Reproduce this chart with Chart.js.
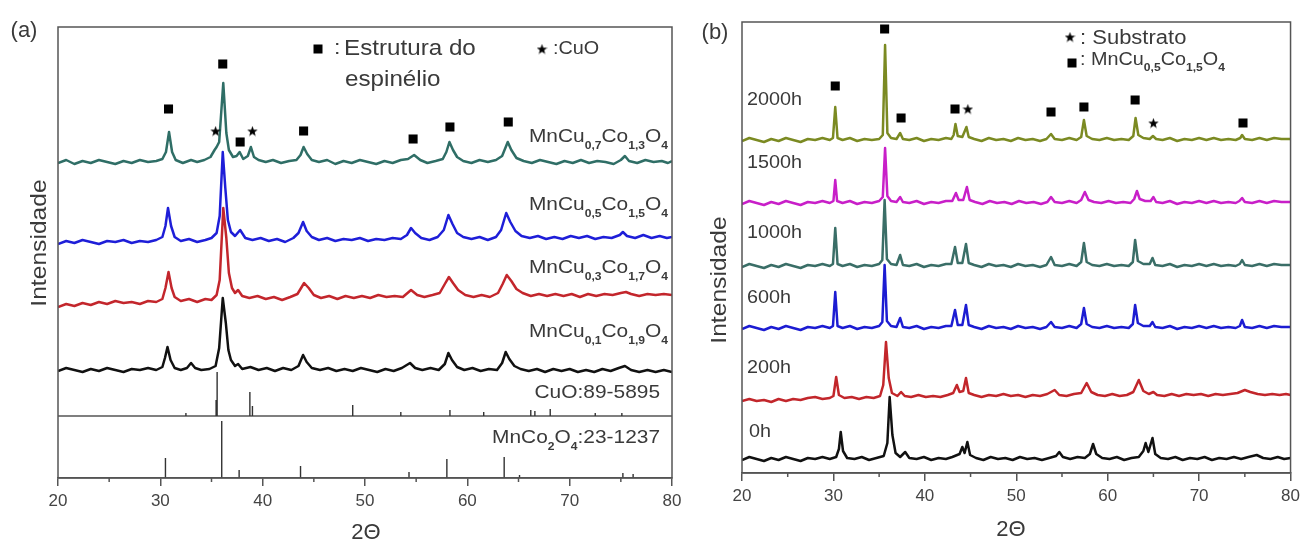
<!DOCTYPE html>
<html><head><meta charset="utf-8">
<script src="https://cdn.jsdelivr.net/npm/chart.js@4.4.1/dist/chart.umd.min.js"></script>
<style>
html,body{margin:0;padding:0;background:#fff;width:1305px;height:541px;overflow:hidden}
#ca{position:absolute;left:0;top:0}
#cb{position:absolute;left:690px;top:0}
</style></head><body>
<canvas id="ca" width="690" height="541"></canvas>
<canvas id="cb" width="615" height="541"></canvas>
<script>
// ---------- DATA ----------
const xTicks = [20,30,40,50,60,70,80];
const minorTicks = [25,35,45,55,65,75];

// Panel (a) traces: [2theta, intensity (offset, a.u.)]
const aMnCu07 = [[20,315],[20.8,318],[21.6,314],[22.4,317],[23.2,315],[24,318],[24.8,316],[25.6,314],[26.4,317],[27.2,315],[28,318],[28.8,316],[29.6,317],[30.2,319],[30.55,326],[30.85,346],[31.15,326],[31.5,318],[32.2,315],[33,318],[33.6,316],[34.3,318],[34.9,321],[35.3,328],[35.5,331],[35.75,336],[36.15,395],[36.45,345],[36.7,328],[37.1,321],[37.45,322],[37.75,326],[38.1,319],[38.55,322],[38.85,331],[39.15,321],[39.6,318],[40.3,316],[41,318],[41.8,315],[42.6,317],[43.3,318],[43.7,323],[44.0,331],[44.35,324],[44.8,318],[45.5,316],[46.3,318],[47.1,314],[47.9,317],[48.7,315],[49.5,318],[50.3,316],[51.1,314],[51.9,317],[52.7,315],[53.5,318],[54.2,319],[54.8,323],[55.4,318],[56.1,315],[56.9,317],[57.6,319],[57.95,326],[58.25,336],[58.6,328],[59.0,321],[59.6,317],[60.4,315],[61.2,318],[62,316],[62.8,318],[63.4,322],[63.95,336],[64.3,328],[64.8,320],[65.5,317],[66.3,315],[67.1,318],[67.9,316],[68.7,314],[69.5,317],[70.3,315],[71.1,318],[71.9,315],[72.7,317],[73.5,316],[74.3,314],[75.0,318],[75.4,322],[75.8,317],[76.6,315],[77.4,318],[78.2,316],[79,317],[79.6,315],[80,317]];
const aMnCu05 = [[20,234],[20.8,237],[21.6,235],[22.4,238],[23.2,236],[24,234],[24.8,237],[25.6,236],[26.4,238],[27.2,235],[28,237],[28.8,236],[29.6,238],[30.2,241],[30.5,252],[30.75,270],[31.05,252],[31.4,241],[32,237],[32.8,239],[33.6,236],[34.4,238],[35,240],[35.5,245],[35.8,262],[36.1,326],[36.35,290],[36.6,258],[36.9,246],[37.3,242],[37.8,248],[38.3,240],[39,238],[39.8,240],[40.6,237],[41.4,239],[42.2,236],[43,240],[43.5,245],[43.95,256],[44.3,247],[44.8,241],[45.5,238],[46.3,240],[47.1,237],[47.9,239],[48.7,238],[49.5,240],[50.3,237],[51.1,239],[51.9,238],[52.7,240],[53.5,239],[54.1,243],[54.5,250],[54.9,245],[55.5,240],[56.3,238],[57.1,241],[57.7,248],[58.15,263],[58.55,254],[59,245],[59.6,241],[60.4,239],[61.2,241],[62,238],[62.8,241],[63.3,248],[63.8,265],[64.2,256],[64.7,247],[65.3,242],[66.1,240],[66.9,242],[67.7,239],[68.5,241],[69.3,239],[70.1,242],[70.9,240],[71.7,242],[72.5,239],[73.3,241],[74.1,240],[74.9,243],[75.2,246],[75.6,242],[76.4,240],[77.2,243],[78,240],[78.8,242],[79.5,240],[80,241]];
const aMnCu03 = [[20,171],[20.8,174],[21.6,172],[22.4,175],[23.2,173],[24,176],[24.8,174],[25.6,177],[26.4,175],[27.2,176],[28,174],[28.8,177],[29.6,176],[30.2,179],[30.5,190],[30.8,206],[31.1,190],[31.4,181],[32,177],[32.8,179],[33.6,176],[34.4,179],[35,178],[35.5,183],[35.8,198],[36.15,270],[36.45,240],[36.7,205],[37,190],[37.3,185],[37.6,188],[38,182],[38.7,180],[39.5,182],[40.3,179],[41.1,181],[41.9,178],[42.7,181],[43.4,184],[44.05,195],[44.5,190],[45,183],[45.7,180],[46.5,182],[47.3,179],[48.1,182],[48.9,180],[49.7,182],[50.5,180],[51.3,183],[52.1,181],[52.9,182],[53.7,181],[54.5,188],[55.1,183],[55.8,181],[56.6,183],[57.3,185],[57.8,194],[58.2,201],[58.6,195],[59.1,188],[59.8,183],[60.6,181],[61.4,183],[62.2,181],[63,185],[63.45,194],[63.85,203],[64.3,197],[64.8,189],[65.4,185],[66.2,182],[67,184],[67.8,182],[68.6,184],[69.4,182],[70.2,184],[71,181],[71.8,184],[72.6,182],[73.4,184],[74.2,183],[75,185],[75.5,186],[76,184],[76.8,182],[77.6,184],[78.4,183],[79.2,184],[80,183]];
const aMnCu01 = [[20,107],[20.8,110],[21.6,108],[22.4,106],[23.2,109],[24,107],[24.8,110],[25.6,108],[26.4,106],[27.2,109],[28,108],[28.8,110],[29.6,108],[30.2,111],[30.45,120],[30.7,131],[31,118],[31.4,110],[32,108],[32.6,110],[33,115],[33.4,110],[34,108],[34.8,109],[35.4,112],[35.75,130],[36.1,180],[36.4,155],[36.65,128],[36.9,118],[37.3,112],[37.6,114],[38,109],[38.8,111],[39.6,108],[40.4,110],[41.2,107],[42,110],[42.8,108],[43.5,112],[43.95,123],[44.3,116],[44.8,110],[45.6,108],[46.4,110],[47.2,107],[48,109],[48.8,107],[49.6,110],[50.4,108],[51.2,106],[52,109],[52.8,107],[53.6,110],[54.4,115],[54.9,110],[55.6,108],[56.4,110],[57.2,108],[57.8,114],[58.15,125],[58.5,118],[59,111],[59.7,108],[60.5,110],[61.3,107],[62.1,109],[62.9,108],[63.4,115],[63.75,126],[64.1,119],[64.6,112],[65.2,109],[66,107],[66.8,109],[67.6,106],[68.4,109],[69.2,107],[70,109],[70.8,106],[71.6,108],[72.4,106],[73.2,109],[74,107],[74.8,110],[75.4,112],[76,108],[76.8,106],[77.6,108],[78.4,106],[79.2,108],[80,106]];

// Reference patterns: [2theta, relative height]
const cuoBase = 62;
const cuoSticks = [[32.5,3],[35.45,16],[35.55,44],[38.75,24],[39.0,10],[48.8,11],[53.5,4],[58.3,6],[61.6,4],[66.2,6],[66.6,5],[68.1,7],[72.5,3],[75.1,3]];
const mncoBase = 0;
const mncoSticks = [[30.5,20],[36.0,57],[37.7,8],[43.7,12],[54.3,6],[58.0,19],[63.6,21],[65.1,3],[75.2,5],[76.2,4]];
const aSeparator = [[20,62],[80,62]];

const aSquares = [[30.8,369],[36.1,414],[37.8,336],[44.0,347],[54.7,339],[58.3,351],[64.0,356]];
const aStars = [[35.4,347],[39.0,347]];

// Panel (b) traces
const b2000 = [[20,332],[20.8,335],[21.6,333],[22.4,331],[23.2,334],[24,332],[24.8,335],[25.6,333],[26.4,331],[27.2,334],[28,333],[28.8,335],[29.6,333],[29.95,335],[30.2,366],[30.45,335],[31,333],[31.8,335],[32.6,332],[33.4,334],[34.2,333],[35,334],[35.4,338],[35.65,428],[35.9,340],[36.3,335],[36.9,334],[37.3,340],[37.6,334],[38.3,333],[39.1,335],[39.9,332],[40.7,334],[41.5,333],[42.3,335],[42.9,334],[43.15,338],[43.35,349],[43.6,337],[44.1,336],[44.55,346],[44.8,336],[45.4,334],[46.2,332],[47,335],[47.8,333],[48.6,334],[49.4,332],[50.2,335],[51,333],[51.8,334],[52.6,332],[53.3,334],[53.8,339],[54.2,334],[55,333],[55.8,335],[56.6,333],[57.1,336],[57.4,353],[57.7,337],[58.3,334],[59.1,333],[59.9,335],[60.7,333],[61.5,334],[62.3,333],[62.8,337],[63.05,355],[63.35,338],[63.9,335],[64.6,334],[64.95,337],[65.3,334],[66,333],[66.8,335],[67.6,332],[68.4,334],[69.2,333],[70,335],[70.8,333],[71.6,335],[72.4,333],[73.2,334],[74,333],[74.5,335],[74.7,338],[75,334],[75.8,333],[76.6,335],[77.4,333],[78.2,335],[79,334],[80,334]];
const b1500 = [[20,269],[20.8,272],[21.6,270],[22.4,268],[23.2,271],[24,269],[24.8,272],[25.6,270],[26.4,268],[27.2,271],[28,270],[28.8,272],[29.6,270],[30,272],[30.2,293],[30.4,272],[31,270],[31.8,272],[32.6,269],[33.4,271],[34.2,270],[35,272],[35.4,276],[35.65,325],[35.9,277],[36.3,272],[36.9,271],[37.3,276],[37.6,271],[38.3,270],[39.1,272],[39.9,269],[40.7,271],[41.5,270],[42.3,272],[43,272],[43.4,280],[43.7,273],[44.2,273],[44.6,286],[44.9,273],[45.5,271],[46.3,269],[47.1,272],[47.9,270],[48.7,271],[49.5,269],[50.3,272],[51.1,270],[51.9,271],[52.7,269],[53.4,271],[53.8,276],[54.2,271],[55,270],[55.8,272],[56.6,270],[57.1,273],[57.5,281],[57.9,273],[58.5,271],[59.3,270],[60.1,272],[60.9,270],[61.7,271],[62.5,270],[62.9,274],[63.2,282],[63.5,274],[64.1,272],[64.7,272],[65.0,276],[65.3,271],[66,270],[66.8,272],[67.6,269],[68.4,271],[69.2,270],[70,272],[70.8,270],[71.6,272],[72.4,270],[73.2,271],[74,270],[74.4,272],[74.7,275],[75,271],[75.8,270],[76.6,272],[77.4,270],[78.2,272],[79,271],[80,271]];
const b1000 = [[20,206],[20.8,209],[21.6,207],[22.4,205],[23.2,208],[24,206],[24.8,209],[25.6,207],[26.4,205],[27.2,208],[28,207],[28.8,209],[29.6,207],[29.95,209],[30.2,245],[30.45,209],[31,207],[31.8,209],[32.6,206],[33.4,208],[34.2,207],[35,209],[35.35,213],[35.6,273],[35.85,214],[36.3,209],[36.9,208],[37.3,218],[37.6,208],[38.3,207],[39.1,209],[39.9,206],[40.7,208],[41.5,207],[42.3,209],[42.9,209],[43.3,226],[43.6,210],[44.1,210],[44.5,229],[44.8,210],[45.4,208],[46.2,206],[47,209],[47.8,207],[48.6,208],[49.4,206],[50.2,209],[51,207],[51.8,208],[52.6,206],[53.3,208],[53.8,216],[54.2,208],[55,207],[55.8,209],[56.6,207],[57.1,211],[57.4,230],[57.7,211],[58.3,208],[59.1,207],[59.9,209],[60.7,207],[61.5,208],[62.3,207],[62.75,211],[63.0,233],[63.3,212],[63.9,209],[64.6,209],[64.9,215],[65.2,208],[66,207],[66.8,209],[67.6,206],[68.4,208],[69.2,207],[70,209],[70.8,207],[71.6,209],[72.4,207],[73.2,208],[74,207],[74.45,209],[74.7,213],[75,208],[75.8,207],[76.6,209],[77.4,207],[78.2,209],[79,208],[80,208]];
const b600 = [[20,144],[20.8,147],[21.6,145],[22.4,143],[23.2,146],[24,144],[24.8,147],[25.6,145],[26.4,143],[27.2,146],[28,145],[28.8,147],[29.6,145],[29.95,147],[30.2,181],[30.45,147],[31,145],[31.8,147],[32.6,144],[33.4,146],[34.2,145],[35,147],[35.35,151],[35.6,208],[35.85,152],[36.3,147],[36.9,146],[37.3,155],[37.6,146],[38.3,145],[39.1,147],[39.9,144],[40.7,146],[41.5,145],[42.3,147],[42.9,147],[43.3,163],[43.6,148],[44.1,148],[44.5,168],[44.8,148],[45.4,146],[46.2,144],[47,147],[47.8,145],[48.6,146],[49.4,144],[50.2,147],[51,145],[51.8,146],[52.6,144],[53.3,146],[53.8,151],[54.2,146],[55,145],[55.8,147],[56.6,145],[57.1,149],[57.4,165],[57.7,149],[58.3,146],[59.1,145],[59.9,147],[60.7,145],[61.5,146],[62.3,145],[62.75,149],[63.0,168],[63.3,150],[63.9,147],[64.6,147],[64.9,151],[65.2,146],[66,145],[66.8,147],[67.6,144],[68.4,146],[69.2,145],[70,147],[70.8,145],[71.6,147],[72.4,145],[73.2,146],[74,145],[74.45,147],[74.7,153],[75,146],[75.8,145],[76.6,147],[77.4,145],[78.2,147],[79,146],[80,146]];
const b200 = [[20,72],[20.8,74],[21.6,72],[22.4,73],[23.2,71],[24,74],[24.8,72],[25.6,74],[26.4,73],[27.2,75],[28,76],[28.8,74],[29.6,75],[30,77],[30.3,96],[30.6,78],[31.2,75],[32,76],[32.8,74],[33.6,76],[34.4,75],[35.1,77],[35.45,88],[35.75,131],[36.05,95],[36.4,80],[37,77],[37.4,81],[37.8,77],[38.5,76],[39.3,78],[40.1,76],[40.9,77],[41.7,76],[42.5,78],[43.1,80],[43.5,88],[43.8,81],[44.2,82],[44.5,95],[44.8,80],[45.4,78],[46.2,76],[47,78],[47.8,77],[48.6,79],[49.4,77],[50.2,78],[51,76],[51.8,78],[52.6,77],[53.4,79],[54.2,83],[54.7,78],[55.5,77],[56.3,79],[57.1,80],[57.7,90],[58.2,81],[58.9,78],[59.7,77],[60.5,79],[61.3,77],[62.1,78],[62.8,81],[63.4,93],[63.9,82],[64.5,79],[65,81],[65.4,78],[66.2,77],[67,79],[67.8,77],[68.6,79],[69.4,78],[70.2,79],[71,77],[71.8,79],[72.6,78],[73.4,79],[74.2,80],[75,83],[75.6,81],[76.4,79],[77.2,78],[78,79],[78.8,78],[79.5,79],[80,78]];
const b0 = [[20,13],[20.8,16],[21.6,14],[22.4,12],[23.2,15],[24,13],[24.8,16],[25.6,14],[26.4,12],[27.2,15],[28,14],[28.8,16],[29.6,14],[30.3,16],[30.6,24],[30.8,41],[31.05,22],[31.5,15],[32.3,14],[33.1,16],[33.9,13],[34.7,15],[35.5,17],[35.9,30],[36.15,76],[36.45,38],[36.8,20],[37.3,16],[37.85,21],[38.3,15],[39.1,14],[39.9,16],[40.7,13],[41.5,15],[42.3,14],[43,16],[43.8,19],[44.1,26],[44.35,20],[44.65,31],[44.95,18],[45.6,15],[46.4,13],[47.2,16],[48,14],[48.8,15],[49.6,13],[50.4,16],[51.2,14],[52,15],[52.8,13],[53.6,15],[54.35,17],[54.7,21],[55.1,16],[55.9,14],[56.7,16],[57.5,15],[58.05,19],[58.4,29],[58.75,19],[59.4,15],[60.2,14],[61,16],[61.8,13],[62.6,15],[63.4,16],[63.9,22],[64.15,30],[64.45,21],[64.9,35],[65.2,19],[65.8,15],[66.6,14],[67.4,16],[68.2,13],[69,15],[69.8,14],[70.6,16],[71.4,13],[72.2,15],[73,14],[73.8,16],[74.6,14],[75.4,16],[76.3,18],[77,15],[77.8,14],[78.6,16],[79.3,14],[80,15]];

const bSquares = [[30.2,387],[35.6,444],[37.4,355],[43.3,364],[53.8,361],[57.4,366],[63.0,373],[74.8,350]];
const bStars = [[44.7,364],[65.0,350]];

// ---------- HELPERS ----------
const FONT = '"Liberation Sans", Arial, sans-serif';
function makeStar(size, color){
  const c=document.createElement('canvas'); c.width=c.height=size;
  const g=c.getContext('2d'); g.fillStyle=color; g.beginPath();
  const cx=size/2, cy=size/2+0.5, R=size/2, r=R*0.42;
  for(let i=0;i<10;i++){const an=-Math.PI/2+i*Math.PI/5; const rr=i%2?r:R; g.lineTo(cx+rr*Math.cos(an), cy+rr*Math.sin(an));}
  g.closePath(); g.fill(); return c;
}
const starImg = makeStar(11,'#000');

function sticksToLine(sticks, base){
  const out=[];
  for(const [p,h] of sticks){ out.push([p,base],[p,base+h],[p,null]); }
  return out;
}
function trace(data,color,w){
  return {data, borderColor:color, borderWidth:w||2.5, showLine:true, pointRadius:0, tension:0, spanGaps:false, borderJoinStyle:'round'};
}
function markers(data,style,r){
  return {data, pointStyle:style, pointRadius:r, backgroundColor:'#000', borderColor:'#000', borderWidth:0, showLine:false};
}
function drawRich(ctx,t){
  const sz=t.size, ss=Math.round(sz*0.6), sx=t.sx||1.1;
  const fm=`${sz}px ${FONT}`, fs=`bold ${ss}px ${FONT}`;
  let w=0; for(const [s,sub] of t.parts){ctx.font=sub?fs:fm; w+=ctx.measureText(s).width;}
  w*=sx;
  let x0 = t.align==='right'? t.x-w : t.align==='center'? t.x-w/2 : t.x;
  ctx.save();
  ctx.translate(x0,t.y); ctx.scale(sx,1);
  ctx.fillStyle=t.color||'#3a3a3a'; ctx.textBaseline='middle'; ctx.textAlign='left';
  let x=0;
  for(const [s,sub] of t.parts){ctx.font=sub?fs:fm; ctx.fillText(s,x,(sub?sz*0.45:0)); x+=ctx.measureText(s).width;}
  ctx.restore();
}
const decor = {
  id:'decor',
  afterDraw(chart,args,o){
    const {ctx, chartArea:a, scales:{x}} = chart;
    ctx.save();
    ctx.strokeStyle='#555'; ctx.lineWidth=1.5;
    ctx.strokeRect(a.left,a.top,a.right-a.left,a.bottom-a.top);
    for(const v of minorTicks){const px=x.getPixelForValue(v); ctx.beginPath(); ctx.moveTo(px,a.bottom); ctx.lineTo(px,a.bottom+4); ctx.stroke();}
    for(const t of o.texts) drawRich(ctx,t);
    for(const m of o.syms){
      if(m.type==='sq'){ctx.fillStyle='#000'; ctx.fillRect(m.x-4.5,m.y-4.5,9,9);}
      else ctx.drawImage(starImg,m.x-5.5,m.y-5.5);
    }
    ctx.fillStyle='#3a3a3a'; ctx.textAlign='center'; ctx.textBaseline='middle';
    ctx.font=`22px ${FONT}`;
    ctx.fillText(o.xTitle.text,o.xTitle.x,o.xTitle.y);
    ctx.translate(o.yTitle.x,o.yTitle.y); ctx.rotate(-Math.PI/2);
    ctx.scale(1.12,1);
    ctx.fillText(o.yTitle.text,0,0);
    ctx.restore();
  }
};
function panel(id, datasets, deco, L){
  return new Chart(document.getElementById(id), {
    type:'scatter',
    data:{datasets},
    options:{
      responsive:false, animation:false, devicePixelRatio:1,
      layout:{padding:{left:L.left,right:L.right,top:L.top,bottom:0}},
      plugins:{legend:{display:false}, tooltip:{enabled:false}, decor:deco},
      scales:{
        x:{type:'linear', min:20, max:80,
           afterFit(s){s.height=L.axisH;},
           afterBuildTicks(s){s.ticks=xTicks.map(v=>({value:v}));},
           ticks:{font:{size:17,family:FONT}, color:'#444', padding:5, maxRotation:0, autoSkip:false},
           grid:{display:true, drawOnChartArea:false, drawTicks:true, tickLength:8, color:'#555', lineWidth:1.5},
           border:{display:true, color:'#555', width:1.5}},
        y:{display:false, min:0, max:451}
      }
    },
    plugins:[decor]
  });
}
const P = (s)=>[[s,0]];

// ---------- PANEL A ----------
panel('ca', [
  markers(aSquares,'rect',6.4),
  markers(aStars,starImg,6),
  trace(aMnCu07,'#2f6e66'),
  trace(aMnCu05,'#1e1ed8'),
  trace(aMnCu03,'#c3262c'),
  trace(aMnCu01,'#111111'),
  trace(sticksToLine(cuoSticks,cuoBase),'#333',1.4),
  trace(sticksToLine(mncoSticks,mncoBase),'#333',1.4),
  trace(aSeparator,'#555',1.5)
], {
  texts:[
    {parts:P('(a)'),x:24,y:31,size:22,align:'center',sx:1},
    {parts:P(':'),x:334,y:48,size:21},
    {parts:P('Estrutura do'),x:344,y:49,size:22},
    {parts:P('espinélio'),x:345,y:80,size:22},
    {parts:P(':CuO'),x:553,y:49,size:18},
    {parts:[['MnCu',0],['0,7',1],['Co',0],['1,3',1],['O',0],['4',1]],x:668,y:137,size:19,align:'right'},
    {parts:[['MnCu',0],['0,5',1],['Co',0],['1,5',1],['O',0],['4',1]],x:668,y:205,size:19,align:'right'},
    {parts:[['MnCu',0],['0,3',1],['Co',0],['1,7',1],['O',0],['4',1]],x:668,y:268,size:19,align:'right'},
    {parts:[['MnCu',0],['0,1',1],['Co',0],['1,9',1],['O',0],['4',1]],x:668,y:332,size:19,align:'right'},
    {parts:P('CuO:89-5895'),x:660,y:393,size:19,align:'right'},
    {parts:[['MnCo',0],['2',1],['O',0],['4',1],[':23-1237',0]],x:660,y:438,size:19,align:'right'}
  ],
  syms:[{type:'sq',x:318,y:49},{type:'st',x:542,y:49}],
  xTitle:{text:'2Θ',x:366,y:533},
  yTitle:{text:'Intensidade',x:40,y:243}
}, {left:58,right:18,top:27,axisH:63});

// ---------- PANEL B ----------
panel('cb', [
  markers(bSquares,'rect',6.4),
  markers(bStars,starImg,6),
  trace(b2000,'#7b8a22'),
  trace(b1500,'#c81fc8'),
  trace(b1000,'#3a6e67'),
  trace(b600,'#1c1cd2'),
  trace(b200,'#c2262b'),
  trace(b0,'#111111')
], {
  texts:[
    {parts:P('(b)'),x:25,y:33,size:22,align:'center',sx:1},
    {parts:P(': Substrato'),x:390,y:38,size:20},
    {parts:[[': MnCu',0],['0,5',1],['Co',0],['1,5',1],['O',0],['4',1]],x:390,y:60,size:18},
    {parts:P('2000h'),x:57,y:100,size:18},
    {parts:P('1500h'),x:57,y:163,size:18},
    {parts:P('1000h'),x:57,y:233,size:18},
    {parts:P('600h'),x:57,y:298,size:18},
    {parts:P('200h'),x:57,y:368,size:18},
    {parts:P('0h'),x:59,y:432,size:18}
  ],
  syms:[{type:'st',x:380,y:37},{type:'sq',x:382,y:63}],
  xTitle:{text:'2Θ',x:321,y:530},
  yTitle:{text:'Intensidade',x:30,y:280}
}, {left:52,right:10,top:22,axisH:68});
</script>
</body></html>
